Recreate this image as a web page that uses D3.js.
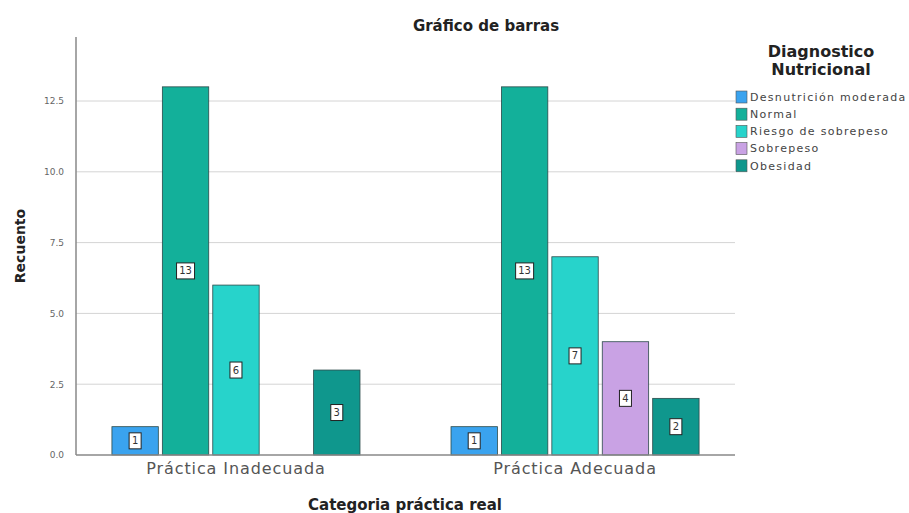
<!DOCTYPE html>
<html><head><meta charset="utf-8">
<script src="https://cdn.jsdelivr.net/npm/d3@7"></script>
<style>body{margin:0;background:#fff;}svg{display:block;font-family:"DejaVu Sans",Verdana,sans-serif;}</style>
</head><body><svg id="c" width="909" height="513"></svg>
<script>
const categories = ["Práctica Inadecuada", "Práctica Adecuada"];
const seriesNames = ["Desnutrición moderada", "Normal", "Riesgo de sobrepeso", "Sobrepeso", "Obesidad"];
const desnutricion = [1, 1];
const normal = [13, 13];
const riesgo = [6, 7];
const sobrepeso = [0, 4];
const obesidad = [3, 2];
const yTicks = [0, 2.5, 5, 7.5, 10, 12.5];
const colors = ["#3aa3ef", "#13b09a", "#27d3cb", "#c9a2e4", "#0f978d"];
const seriesValues = [desnutricion, normal, riesgo, sobrepeso, obesidad];

const svg = d3.select("#c");
const pLeft = 76, pRight = 735, pTop = 37, pBottom = 455;
const y = d3.scaleLinear().domain([0, 14.76]).range([pBottom, pTop]);
const x0 = d3.scaleBand().domain(categories).range([pLeft, pRight]).paddingInner(0.2625).paddingOuter(0.103);
const x1 = d3.scaleBand().domain(seriesNames).range([0, x0.bandwidth()]).paddingInner(0.08).paddingOuter(0.02);

// gridlines
svg.append("g").selectAll("line").data(yTicks.filter(d => d > 0)).join("line")
  .attr("x1", pLeft).attr("x2", pRight).attr("y1", d => y(d)).attr("y2", d => y(d))
  .attr("stroke", "#d4d4d4").attr("stroke-width", 1);

// y axis
const yAxis = d3.axisLeft(y).tickValues(yTicks).tickFormat(d3.format(".1f")).tickSize(0).tickPadding(12);
const ya = svg.append("g").attr("transform", `translate(${pLeft},0)`).call(yAxis);
ya.select(".domain").remove();
ya.selectAll("text").attr("font-size", 9).attr("fill", "#666").attr("font-family", "DejaVu Sans, Verdana");
svg.append("line").attr("x1", pLeft).attr("x2", pLeft).attr("y1", pTop).attr("y2", pBottom).attr("stroke", "#888").attr("stroke-width", 1.5);

// bars
const rows = [];
categories.forEach((c, i) => seriesNames.forEach((s, j) => rows.push({c, s, j, v: seriesValues[j][i]})));
const bars = rows.filter(d => d.v > 0);
svg.append("g").selectAll("rect").data(bars).join("rect")
  .attr("x", d => x0(d.c) + x1(d.s)).attr("width", x1.bandwidth())
  .attr("y", d => y(d.v)).attr("height", d => y(0) - y(d.v))
  .attr("fill", d => colors[d.j]).attr("stroke", "#2b4a4a").attr("stroke-width", 0.8);

// x axis line
svg.append("line").attr("x1", pLeft).attr("x2", pRight).attr("y1", pBottom).attr("y2", pBottom).attr("stroke", "#888").attr("stroke-width", 1.5);

// value labels
const lg = svg.append("g").selectAll("g").data(bars).join("g")
  .attr("transform", d => `translate(${x0(d.c) + x1(d.s) + x1.bandwidth() / 2},${y(d.v / 2)})`);
lg.append("rect").attr("x", d => d.v >= 10 ? -9 : -6).attr("y", -8)
  .attr("width", d => d.v >= 10 ? 18 : 12).attr("height", 16)
  .attr("fill", "#fff").attr("stroke", "#222").attr("stroke-width", 1);
lg.append("text").text(d => d.v).attr("text-anchor", "middle").attr("dy", "0.35em")
  .attr("font-size", 10).attr("fill", "#333");

// category labels
svg.append("g").selectAll("text").data(categories).join("text")
  .attr("x", d => x0(d) + x0.bandwidth() / 2).attr("y", 474).attr("text-anchor", "middle")
  .attr("font-size", 16).attr("letter-spacing", 0.9).attr("fill", "#555").text(d => d);

// titles
svg.append("text").attr("x", 486).attr("y", 31).attr("text-anchor", "middle")
  .attr("font-size", 15).attr("font-weight", "bold").attr("fill", "#222").text("Gráfico de barras");
svg.append("text").attr("x", 405).attr("y", 510).attr("text-anchor", "middle")
  .attr("font-size", 15).attr("font-weight", "bold").attr("fill", "#222").text("Categoria práctica real");
svg.append("text").attr("transform", "translate(25,246) rotate(-90)").attr("text-anchor", "middle")
  .attr("font-size", 14).attr("font-weight", "bold").attr("fill", "#222").text("Recuento");

// legend
svg.append("text").attr("x", 821).attr("y", 57).attr("text-anchor", "middle")
  .attr("font-size", 16).attr("font-weight", "bold").attr("fill", "#222").text("Diagnostico");
svg.append("text").attr("x", 821).attr("y", 75).attr("text-anchor", "middle")
  .attr("font-size", 16).attr("font-weight", "bold").attr("fill", "#222").text("Nutricional");
const leg = svg.append("g").selectAll("g").data(seriesNames).join("g")
  .attr("transform", (d, i) => `translate(736,${97 + i * 17.2})`);
leg.append("rect").attr("x", 0).attr("y", -6).attr("width", 11).attr("height", 12)
  .attr("fill", (d, i) => colors[i]).attr("stroke", "#555").attr("stroke-width", 0.6);
leg.append("text").attr("x", 14).attr("dy", "0.35em").attr("font-size", 11).attr("letter-spacing", 1.3)
  .attr("fill", "#444").text(d => d);
</script></body></html>
